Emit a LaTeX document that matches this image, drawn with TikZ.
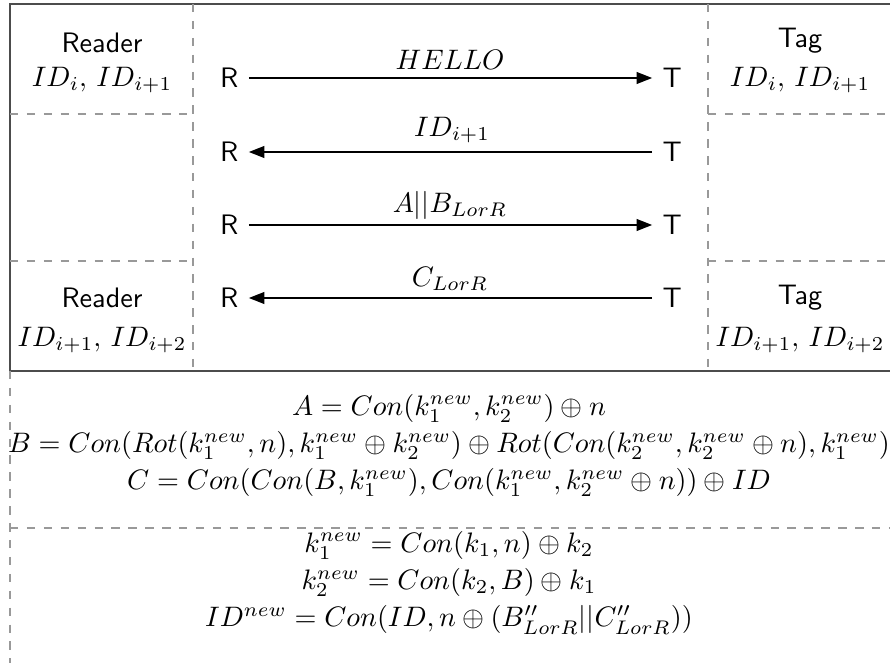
\documentclass[tikz,border=0pt]{standalone}
\usetikzlibrary{arrows.meta}
\begin{document}
\begin{tikzpicture}[x=0.355pt,y=-0.355pt,
  frame/.style={draw=black!70,line width=0.6pt},
  sep/.style={draw=black!40,dashed,line width=0.5pt},
  msg/.style={draw=black,line width=0.5pt},
  tip/.style={-{Triangle[length=5.5pt,width=4.2pt]}},
  party/.style={font=\sffamily,inner sep=0pt},
  lbl/.style={inner sep=0pt},
  eq/.style={inner sep=0pt}]
\useasboundingbox (0,0) rectangle (890,663);
\clip (0,0) rectangle (890,663);
% frame
\draw[frame] (10,4) rectangle (900,371);
\draw[sep] (193,4) -- (193,371);
\draw[sep] (708,4) -- (708,371);
\draw[sep] (10,114) -- (193,114);
\draw[sep] (10,261) -- (193,261);
\draw[sep] (708,114) -- (890,114);
\draw[sep] (708,261) -- (890,261);
\draw[sep] (10,371) -- (10,670);
\draw[sep] (10,528) -- (890,528);
% side labels
\node[party] (rd1) at (102,43) {Reader};
\node[lbl] (rid1) at (102,80) {$ID_i,\, ID_{i+1}$};
\node[party] (rd2) at (102,298) {Reader};
\node[lbl] (rid2) at (102,340) {$ID_{i+1},\, ID_{i+2}$};
\node[party] (tg1) at (800,41) {Tag};
\node[lbl] (tid1) at (800,80) {$ID_i,\, ID_{i+1}$};
\node[party] (tg2) at (800,298) {Tag};
\node[lbl] (tid2) at (800,340) {$ID_{i+1},\, ID_{i+2}$};
% R and T
\foreach \i/\y in {1/78,2/152,3/225,4/298}{
  \node[party,anchor=east] (R\i) at (239,\y) {R};
  \node[party,anchor=west] (T\i) at (662,\y) {T};
}
\draw[msg,tip] ([xshift=3.5pt]R1.east) -- ([xshift=-3.5pt]T1.west);
\draw[msg,tip] ([xshift=-3.5pt]T2.west) -- ([xshift=3.5pt]R2.east);
\draw[msg,tip] ([xshift=3.5pt]R3.east) -- ([xshift=-3.5pt]T3.west);
\draw[msg,tip] ([xshift=-3.5pt]T4.west) -- ([xshift=3.5pt]R4.east);
\node[lbl] (m1) at (450,60) {$HELLO$};
\node[lbl] (m2) at (452,130) {$ID_{i+1}$};
\node[lbl] (m3) at (450,205) {$A||B_{LorR}$};
\node[lbl] (m4) at (450,279) {$C_{LorR}$};
% equations
\node[eq] (eqa) at (449,445) {\renewcommand{\arraystretch}{1.108}$\begin{array}{@{}c@{}}
A=Con(k_1^{new},k_2^{new})\oplus n\\
B=Con(Rot(k_1^{new},n),k_1^{new}\oplus k_2^{new})\oplus Rot(Con(k_2^{new},k_2^{new}\oplus n),k_1^{new})\\
C=Con(Con(B,k_1^{new}),Con(k_1^{new},k_2^{new}\oplus n))\oplus ID
\end{array}$};
\node[eq] (eqb) at (449,582) {\renewcommand{\arraystretch}{1.108}$\begin{array}{@{}c@{}}
k_1^{new}=Con(k_1,n)\oplus k_2\\
k_2^{new}=Con(k_2,B)\oplus k_1\\
ID^{new}=Con(ID,n\oplus (B''_{LorR}||C''_{LorR}))
\end{array}$};
\end{tikzpicture}
\end{document}
